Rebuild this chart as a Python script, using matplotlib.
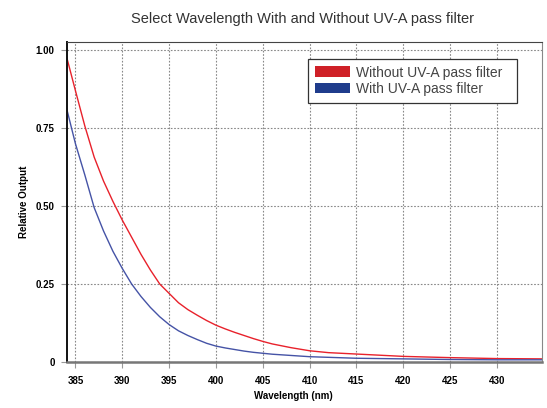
import matplotlib as mpl
mpl.rcParams["font.family"] = ["Liberation Sans", "DejaVu Sans"]
import matplotlib.pyplot as plt
from matplotlib.patches import Patch

# wavelength (nm) and relative output
wl_without = [384, 385, 386, 387, 388, 389, 390, 391, 392, 393, 394, 395,
              396, 397, 398, 399, 400, 401, 402, 403, 404, 405, 406, 407,
              408, 409, 410, 412, 414, 416, 418, 420, 425, 430, 435]
out_without = [0.985, 0.87, 0.757, 0.657, 0.58, 0.515, 0.455, 0.40, 0.345,
               0.295, 0.25, 0.22, 0.19, 0.168, 0.15, 0.133, 0.118, 0.106,
               0.095, 0.085, 0.075, 0.066, 0.058, 0.052, 0.046, 0.041,
               0.036, 0.030, 0.027, 0.024, 0.021, 0.018, 0.014, 0.011, 0.010]

wl_with = [384, 385, 386, 387, 388, 389, 390, 391, 392, 393, 394, 395,
           396, 397, 398, 399, 400, 401, 402, 403, 404, 405, 406, 408,
           410, 412, 415, 420, 425, 430, 435]
out_with = [0.82, 0.70, 0.60, 0.495, 0.42, 0.355, 0.30, 0.25, 0.21, 0.175,
            0.145, 0.12, 0.10, 0.085, 0.072, 0.06, 0.051, 0.045, 0.040,
            0.035, 0.031, 0.028, 0.025, 0.021, 0.017, 0.015, 0.012, 0.010,
            0.008, 0.007, 0.007]

xticks = [385, 390, 395, 400, 405, 410, 415, 420, 425, 430]
yticks = [0, 0.25, 0.5, 0.75, 1.0]
ytick_labels = ["0", "0.25", "0.50", "0.75", "1.00"]

fig = plt.figure(figsize=(5.47, 4.08), dpi=100)
ax = fig.add_axes([67 / 547, 1 - 362 / 408, 475 / 547, 320 / 408])

ax.plot(wl_without, out_without, color="#e8212b", lw=1.0)
ax.plot(wl_with, out_with, color="#4553a6", lw=1.0)

ax.set_xlim(384.1, 434.8)
ax.set_ylim(0, 1.026)
ax.set_xticks(xticks)
ax.set_yticks(yticks)
ax.set_yticklabels(ytick_labels)
ax.tick_params(labelsize=7, length=4, width=0.8, color="#999999")
ax.tick_params(axis="x", pad=6)
ax.tick_params(axis="y", pad=5)
for lab in ax.get_xticklabels() + ax.get_yticklabels():
    lab.set_fontweight("bold")

ax.grid(True, ls=(0, (1.5, 1.5)), color="#888888", lw=0.8)
ax.set_axisbelow(True)

ax.spines["left"].set_color("#111111")
ax.spines["left"].set_linewidth(1.4)
ax.spines["bottom"].set_color("#777777")
ax.spines["bottom"].set_linewidth(1.8)
ax.spines["top"].set_color("#444444")
ax.spines["top"].set_linewidth(0.8)
ax.spines["right"].set_color("#888888")
ax.spines["right"].set_linewidth(0.8)

ax.set_xlabel("Wavelength (nm)", fontsize=7, fontweight="bold")
ax.xaxis.set_label_coords(0.476, -0.091)
ax.set_ylabel("Relative Output", fontsize=7, fontweight="bold")
ax.yaxis.set_label_coords(-0.080, 0.5)

fig.suptitle("Select Wavelength With and Without UV-A pass filter",
             x=0.553, y=0.970, fontsize=10.5, color="#333333")

handles = [Patch(facecolor="#cf2027", edgecolor="none"),
           Patch(facecolor="#1f3c8c", edgecolor="none")]
leg = ax.legend(handles, ["Without UV-A pass filter  ", "With UV-A pass filter"],
                loc="upper right", bbox_to_anchor=(0.947, 0.948),
                fontsize=10, frameon=True, fancybox=False, framealpha=1,
                edgecolor="#333333", handlelength=2.5, handleheight=0.8,
                handletextpad=0.43, labelspacing=0.15, borderpad=0.5,
                borderaxespad=0)
leg.get_frame().set_linewidth(0.9)
for t in leg.get_texts():
    t.set_color("#444444")

fig.savefig("out.png", dpi=100)
